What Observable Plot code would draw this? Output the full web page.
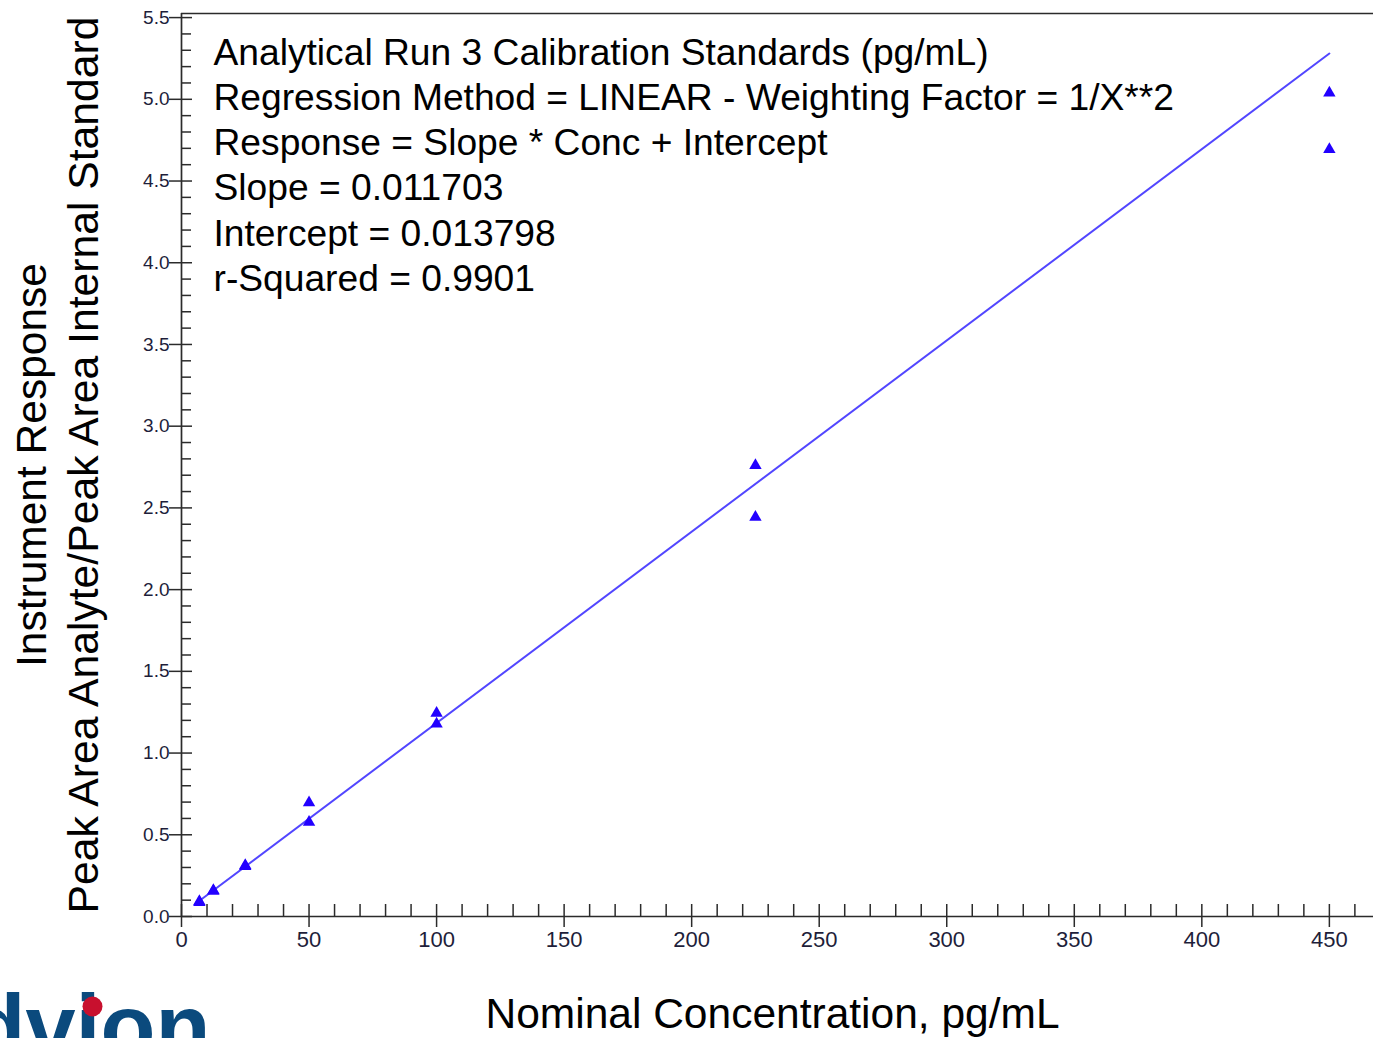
<!DOCTYPE html>
<html>
<head>
<meta charset="utf-8">
<script src="https://cdn.jsdelivr.net/npm/d3@7"></script>
<script src="https://cdn.jsdelivr.net/npm/@observablehq/plot@0.6"></script>
<style>
  html, body { margin: 0; padding: 0; background: #ffffff; }
  #chart svg { display: block; }
</style>
</head>
<body>
<div id="chart"></div>
<script>
// ---- Data ----
const concentration = [7, 7, 12.5, 12.5, 25, 25, 50, 50, 100, 100, 225, 225, 450, 450];
const response      = [0.092, 0.086, 0.159, 0.155, 0.312, 0.306, 0.696, 0.577, 1.244, 1.179, 2.760, 2.444, 5.039, 4.694];

// regression line end points (drawn line in the picture)
const fitConcentration = [6, 450];
const fitResponse      = [0.084, 5.280];

// tick labels
const xTicks = [0, 50, 100, 150, 200, 250, 300, 350, 400, 450];
const yTicks = [0.0, 0.5, 1.0, 1.5, 2.0, 2.5, 3.0, 3.5, 4.0, 4.5, 5.0, 5.5];
const xMinorTicks = d3.range(10, 470, 10).filter(v => v % 50 !== 0);
const yMinorTicks = d3.range(1, 56).map(v => v / 10).filter((v, i) => (i + 1) % 5 !== 0);

// annotation text
const annotationLines = [
  "Analytical Run 3 Calibration Standards (pg/mL)",
  "Regression Method = LINEAR - Weighting Factor = 1/X**2",
  "Response = Slope * Conc + Intercept",
  "Slope = 0.011703",
  "Intercept = 0.013798",
  "r-Squared = 0.9901"
];
const yTitleLine1 = "Instrument Response";
const yTitleLine2 = "Peak Area Analyte/Peak Area Internal Standard";
const xTitle = "Nominal Concentration, pg/mL";
const logoText = "dvion";

// ---- Layout ----
const W = 1373, H = 1038;
const mL = 181, mR = 0, mT = 13, mB = 122;
const frameW = W - mL - mR, frameH = H - mT - mB;
const xDomain = [0, 467.3];
const yDomain = [0, 5.525];

const points = concentration.map((c, i) => ({c, r: response[i]}));
const fit = fitConcentration.map((c, i) => ({c, r: fitResponse[i]}));

const axisColor = "#2b2b2b";
const tickTextColor = "#1e1e3a";
const font = "'Liberation Sans', Arial, Helvetica, sans-serif";

const chart = Plot.plot({
  width: W,
  height: H,
  marginLeft: mL,
  marginRight: mR,
  marginTop: mT,
  marginBottom: mB,
  style: {fontFamily: font, background: "#ffffff", overflow: "visible"},
  x: {domain: xDomain},
  y: {domain: yDomain},
  marks: [
    // frame lines
    Plot.ruleX([0], {stroke: axisColor, strokeWidth: 1.7}),
    Plot.ruleY([0], {stroke: axisColor, strokeWidth: 1.7}),
    Plot.ruleY([yDomain[1]], {stroke: axisColor, strokeWidth: 1.7}),
    // y ticks
    Plot.tickY(yMinorTicks, {y: d => d, insetRight: frameW - 10, stroke: axisColor, strokeWidth: 1.5}),
    Plot.tickY(yTicks, {y: d => d, insetLeft: -12, insetRight: frameW - 11, stroke: axisColor, strokeWidth: 1.5}),
    // x ticks
    Plot.tickX(xMinorTicks, {x: d => d, insetTop: frameH - 12, stroke: axisColor, strokeWidth: 1.5}),
    Plot.tickX(xTicks, {x: d => d, insetTop: frameH - 12, insetBottom: -11, stroke: axisColor, strokeWidth: 1.5}),
    // tick labels
    Plot.axisY(yTicks, {tickSize: 0, tickPadding: 12, fontSize: 19, fill: tickTextColor, label: null, tickFormat: d3.format(".1f")}),
    Plot.axisX(xTicks, {tickSize: 0, tickPadding: 15, fontSize: 22, fill: tickTextColor, label: null, tickFormat: d => String(d)}),
    // regression line
    Plot.line(fit, {x: "c", y: "r", stroke: "#5246ff", strokeWidth: 2}),
    // data points
    Plot.dot(points, {x: "c", y: "r", symbol: "triangle", r: 4.6, fill: "#2200ff", stroke: "none"}),
    // annotation block
    Plot.text([annotationLines.join("\n")], {
      text: d => d, frameAnchor: "top-left", textAnchor: "start", lineAnchor: "top",
      dx: 32, dy: 20, fontSize: 37.2, lineHeight: 1.21, fill: "#000000"
    }),
    // y titles
    Plot.text([yTitleLine1], {
      text: d => d, frameAnchor: "left", rotate: -90, textAnchor: "middle", lineAnchor: "middle",
      dx: -149, dy: 0, fontSize: 42.5, fill: "#000000"
    }),
    Plot.text([yTitleLine2], {
      text: d => d, frameAnchor: "left", rotate: -90, textAnchor: "middle", lineAnchor: "middle",
      dx: -97, dy: 0, fontSize: 42.7, fill: "#000000"
    }),
    // x title
    Plot.text([xTitle], {
      text: d => d, frameAnchor: "bottom", textAnchor: "middle", lineAnchor: "bottom",
      dx: -5, dy: 111, fontSize: 42.5, fill: "#000000"
    }),
    // logo (cropped at the bottom edge, as in the reference)
    Plot.text([logoText], {
      text: d => d, frameAnchor: "bottom-left", textAnchor: "start", lineAnchor: "bottom",
      dx: -211, dy: 141, fontSize: 90, fontWeight: "bold", fill: "#0b4a7d", letterSpacing: -2
    }),
    Plot.dot([logoText], {x: null, y: null, frameAnchor: "bottom-left", dx: -89, dy: 90, r: 10, fill: "#c8102e", stroke: "none"})
  ]
});

document.getElementById("chart").appendChild(chart);
</script>
</body>
</html>
